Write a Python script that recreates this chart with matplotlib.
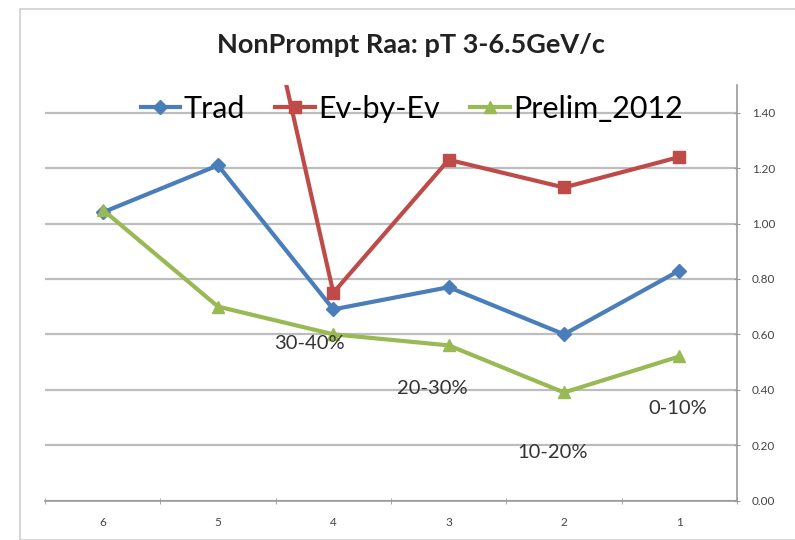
import matplotlib
matplotlib.use("Agg")
import matplotlib.pyplot as plt
from matplotlib.patches import Rectangle

plt.rcParams['font.family'] = ['Lato', 'DejaVu Sans']

categories = ['6', '5', '4', '3', '2', '1']
trad = [1.04, 1.21, 0.69, 0.77, 0.60, 0.83]
ev_by_ev = [None, 2.59, 0.75, 1.23, 1.13, 1.24]
prelim_2012 = [1.05, 0.70, 0.60, 0.56, 0.39, 0.52]
y_ticks = [0.0, 0.2, 0.4, 0.6, 0.8, 1.0, 1.2, 1.4]

# centrality labels placed by hand like the original slide
cent_labels = ['30-40%', '20-30%', '10-20%', '0-10%']
cent_pos = [(1.79, 0.568), (2.86, 0.405), (3.90, 0.175), (4.99, 0.333)]

fig = plt.figure(figsize=(7.95, 5.4), dpi=100)
ax = fig.add_axes([45 / 795, 1 - 500.5 / 540, 692 / 795, 415.5 / 540])

# chart border
fig.patches.append(Rectangle((20 / 795, 0), 1.0, 1 - 9 / 540, transform=fig.transFigure,
                             fill=False, edgecolor='#d0d0d0', linewidth=1.2))

x = list(range(len(categories)))
ev_x = [i for i, v in zip(x, ev_by_ev) if v is not None]
ev_y = [v for v in ev_by_ev if v is not None]

ax.plot(x, trad, color='#4a7ebb', lw=3, marker='D', ms=7.5, label='Trad', zorder=3)
ax.plot(ev_x, ev_y, color='#be4b48', lw=3, marker='s', ms=9, label='Ev-by-Ev', zorder=3)
ax.plot(x, prelim_2012, color='#98b954', lw=3, marker='^', ms=9, label='Prelim_2012', zorder=3)

for txt, (px, py) in zip(cent_labels, cent_pos):
    ax.text(px, py, txt, ha='center', va='center', fontsize=14.5, color='#333333')

ax.set_xlim(-0.5, len(categories) - 0.5)
ax.set_ylim(0, 1.5)
ax.set_yticks(y_ticks)
ax.set_yticklabels(['%.2f' % v for v in y_ticks])
ax.yaxis.tick_right()
ax.grid(axis='y', color='#bdbdbd', lw=1.6)
ax.set_axisbelow(True)

ax.set_xticks(x)
ax.set_xticklabels(categories)
ax.set_xticks([i - 0.5 for i in range(len(categories) + 1)], minor=True)
ax.tick_params(axis='x', which='major', length=0, pad=12, labelsize=8.5, labelcolor='#444444')
ax.tick_params(axis='x', which='minor', length=5, color='#999999', direction='inout')
ax.tick_params(axis='y', length=5, color='#999999', direction='inout', pad=8,
               labelsize=8.5, labelcolor='#444444')

for s in ['left', 'top']:
    ax.spines[s].set_visible(False)
ax.spines['right'].set_color('#999999')
ax.spines['bottom'].set_color('#999999')
ax.spines['right'].set_linewidth(1.2)
ax.spines['bottom'].set_linewidth(1.2)

leg = ax.legend(loc='center', bbox_to_anchor=(0.53, 0.942), ncol=3, frameon=False,
                fontsize=22, handlelength=1.3, handletextpad=0.1, columnspacing=1.0,
                borderaxespad=0)

fig.text(0.517, 1 - 45 / 540, 'NonPrompt Raa: pT 3-6.5GeV/c', ha='center', va='center',
         fontsize=19.5, fontweight='bold', color='#222222')

fig.savefig('out.png', dpi=100)
